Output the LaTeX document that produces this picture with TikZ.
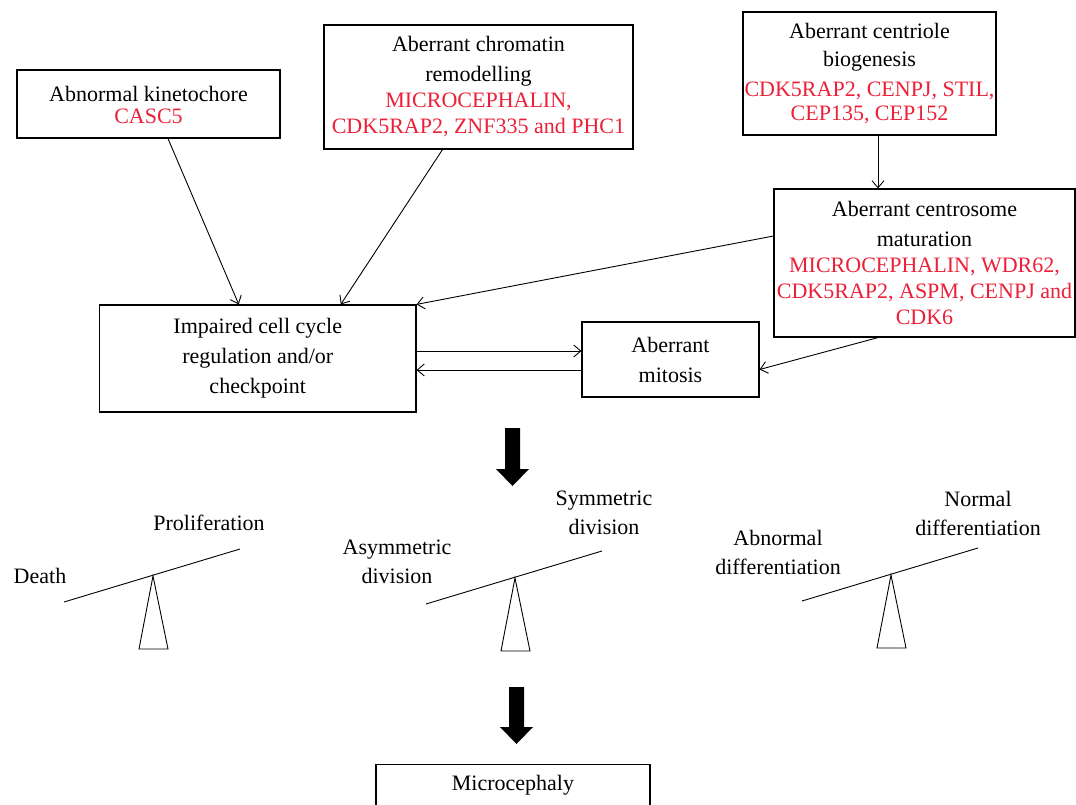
\documentclass[tikz,border=0pt]{standalone}
\usepackage{fontspec}
\setmainfont{Liberation Serif}
\usetikzlibrary{arrows.meta,calc}

\definecolor{genered}{RGB}{236,32,56}
\newcommand{\genes}[1]{\textcolor{genered}{#1}}
% solid block arrow pointing down: x, top of shaft, tip
\newcommand{\blockdown}[3]{%
  \fill (#1-7.5,#2) -- (#1+7.5,#2) -- (#1+7.5,#3-17) -- (#1+16.5,#3-17)
    -- (#1,#3) -- (#1-16.5,#3-17) -- (#1-7.5,#3-17) -- cycle;}

\begin{document}
\begin{tikzpicture}[x=1pt,y=-1pt,
    every node/.style={font=\fontsize{22}{26}\selectfont},
    box/.style={draw,line width=1.2pt,align=center,inner sep=0pt},
    link/.style={line width=0.9pt,-{Straight Barb[length=7pt,width=12pt]}},
    lbl/.style={align=center,font=\fontsize{22}{29}\selectfont},
    beam/.style={line width=0.9pt}]
  \useasboundingbox (0,0) rectangle (1076,805);
  \clip (0,0) rectangle (1076,805);
  \fill[white] (0,0) rectangle (1076,805);

  % causes
  \node[box,minimum width=263,minimum height=68] (kin) at (148.5,104)
    {\strut Abnormal kinetochore\\[-4pt] \genes{CASC5}};
  \node[box,minimum width=309,minimum height=124] (chrom) at (478.5,87)
    {Aberrant chromatin\\[4pt] remodelling\\ \genes{MICROCEPHALIN,}\\ \genes{CDK5RAP2, ZNF335 and PHC1}};
  \node[box,minimum width=253,minimum height=123] (cent) at (869.5,73.5)
    {Aberrant centriole\\[2pt] biogenesis\\[4pt] \genes{CDK5RAP2, CENPJ, STIL,}\\[-2pt] \genes{CEP135, CEP152}};
  \node[box,minimum width=301,minimum height=148] (cen) at (924.5,263)
    {Aberrant centrosome\\[4pt] maturation\\ \genes{MICROCEPHALIN, WDR62,}\\ \genes{CDK5RAP2, ASPM, CENPJ and}\\ \genes{CDK6}};

  % middle row
  \node[box,minimum width=316.5,minimum height=107,font=\fontsize{22}{30}\selectfont] (imp) at (257.75,358.5)
    {Impaired cell cycle\\ regulation and/or\\ checkpoint};
  \node[box,minimum width=177,minimum height=75,font=\fontsize{22}{30}\selectfont] (mit) at (670.5,359.5)
    {Aberrant\\ mitosis};

  % outcome
  \node[box,anchor=north,minimum width=274,inner sep=6pt,text height=20pt,text depth=40pt] (mic) at (513,764)
    {Microcephaly};

  % links
  \coordinate (cs) at ($(cent.south)+(8.5,0)$);
  \draw[link] ($(kin.south)+(19.5,0)$) -- ($(imp.north)+(-19,0)$);
  \draw[link] ($(chrom.south)+(-36,0)$) -- ($(imp.north)+(83,0)$);
  \draw[link] ($(cen.west)+(0,-27)$) -- (imp.north east);
  \draw[link] (cs) -- (cs |- cen.north);
  \draw[link] ($(imp.east)+(0,-7.5)$) -- ($(mit.west)+(0,-8.5)$);
  \draw[link] ($(mit.west)+(0,10.5)$) -- ($(imp.east)+(0,11.5)$);
  \draw[link] ($(cen.south)+(-46.5,0)$) -- ($(mit.east)+(0,10)$);

  \blockdown{512.5}{428}{486}
  \blockdown{516.5}{687}{744}

  % balances
  \foreach \ax/\ay in {153/576, 515/578, 891/575} {
    \draw[beam] (\ax-89,\ay+26) -- (\ax+87,\ay-27);
    \draw[beam] (\ax,\ay) -- (\ax+15,\ay+73) -- (\ax-14,\ay+73) -- cycle;
  }
  \node[lbl] (death) at (40,576) {Death};
  \node[lbl] (prolif) at (209,523) {Proliferation};
  \node[lbl] (asym) at (397,561.5) {Asymmetric\\ division};
  \node[lbl] (sym) at (604,512.5) {Symmetric\\ division};
  \node[lbl] (abdiff) at (778,552.5) {Abnormal\\ differentiation};
  \node[lbl] (nodiff) at (978,513.5) {Normal\\ differentiation};
\end{tikzpicture}
\end{document}
